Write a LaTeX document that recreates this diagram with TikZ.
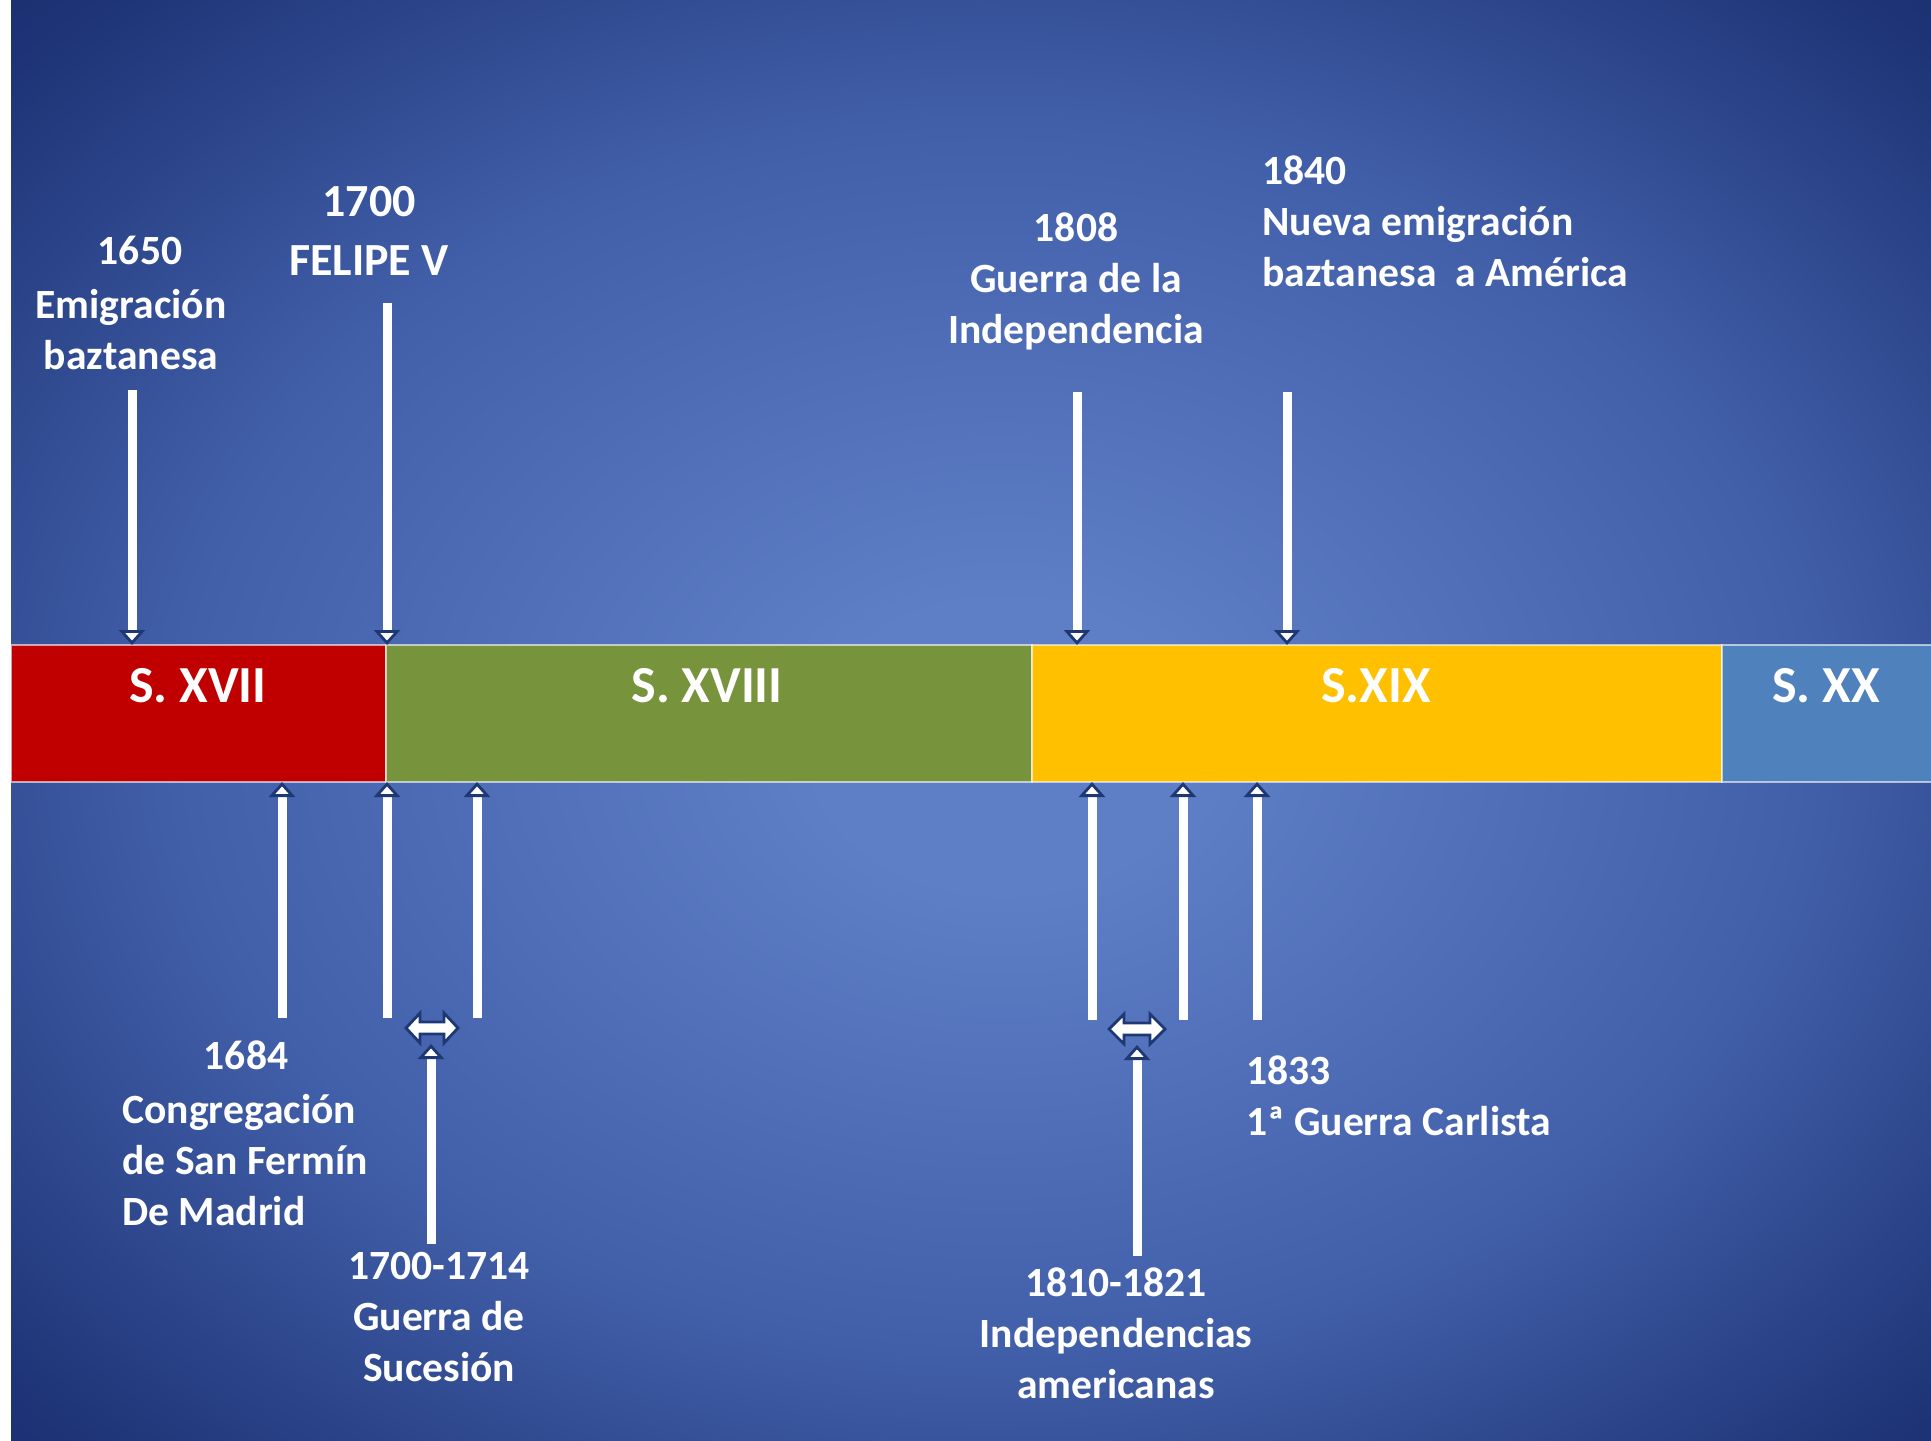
\documentclass[tikz,border=0pt]{standalone}
\usepackage{fontspec}
\setmainfont{Carlito}
\usetikzlibrary{arrows.meta}
\definecolor{bgin}{RGB}{94,126,198}
\definecolor{bgmid}{RGB}{66,96,170}
\definecolor{bgedge}{RGB}{30,52,118}
\definecolor{bgcorner}{RGB}{6,22,76}
\definecolor{c17}{RGB}{192,0,0}
\definecolor{c18}{RGB}{119,147,60}
\definecolor{c19}{RGB}{255,192,0}
\definecolor{c20}{RGB}{79,129,189}
\definecolor{arrshadow}{RGB}{30,56,115}
\pgfdeclareradialshading{bgshade}{\pgfpoint{1bp}{-1bp}}{color(0bp)=(bgin); color(5bp)=(bgin); color(21bp)=(bgmid); color(34bp)=(bgedge); color(50bp)=(bgcorner)}
\begin{document}
\begin{tikzpicture}[x=0.5pt,y=-0.5pt,
  lbl/.style={text=white, font=\bfseries\fontsize{20.8pt}{25.5pt}\selectfont, inner sep=0pt, align=center},
  big/.style={text=white, font=\bfseries\fontsize{23pt}{29.5pt}\selectfont, inner sep=0pt, align=center},
  cent/.style={text=white, font=\bfseries\fontsize{26pt}{30pt}\selectfont, inner sep=0pt},
  seg/.style={draw=white, draw opacity=0.6, line width=1pt},
  arr/.style={draw=white, line width=4.5pt, -{Triangle[width=13pt,length=7.5pt,fill=white,color=arrshadow,line width=1.4pt]}},
  dbl/.style={fill=white, draw=arrshadow, line width=1.4pt, line join=miter}
]
% background
\useasboundingbox (0,0) rectangle (1931,1440);
\fill[white] (0,0) rectangle (11,1440);
\shade[shading=bgshade] (11,0) rectangle (1931,1440);

% timeline bar
\path[seg, fill=c17] (11,645) rectangle (386,782);
\path[seg, fill=c18] (386,645) rectangle (1032,782);
\path[seg, fill=c19] (1032,645) rectangle (1722,782);
\path[seg, fill=c20] (1722,645) rectangle (1933,782);

\node[cent] (s17) at (198,686) {S. XVII};
\node[cent] (s18) at (707,686) {S. XVIII};
\node[cent] (s19) at (1376,686) {S.XIX};
\node[cent] (s20) at (1826,686) {S. XX};

% top labels
\node[lbl] (t1650) at (140,250) {1650};
\node[lbl] (t1650b) at (131,330) {Emigración\\baztanesa};
\node[big] (t1700) at (369,231) {1700\\FELIPE V};
\node[lbl] (t1808) at (1076,281) {1808\\Guerra de la\\Independencia};
\node[lbl, anchor=west, align=left] (t1840) at (1262,221) {1840\\Nueva emigración\\baztanesa\ \ a América};

% bottom labels
\node[lbl] (t1684) at (246,1055) {1684};
\node[lbl, anchor=west, align=left] (t1684b) at (122,1160) {Congregación\\de San Fermín\\De Madrid};
\node[lbl] (t1714) at (439,1317) {1700-1714\\Guerra de\\Sucesión};
\node[lbl] (t1821) at (1116,1333) {1810-1821\\Independencias\\americanas};
\node[lbl, anchor=west, align=left] (t1833) at (1246,1096) {1833\\1ª Guerra Carlista};

% arrow end points
\coordinate (a1s) at (132,390);  \coordinate (a1e) at (132,645);
\coordinate (a2s) at (387,303);  \coordinate (a2e) at (387,645);
\coordinate (a3s) at (1077,392); \coordinate (a3e) at (1077,645);
\coordinate (a4s) at (1287,392); \coordinate (a4e) at (1287,645);

\coordinate (b1s) at (282,1018);  \coordinate (b1e) at (282,782);
\coordinate (b2s) at (387,1018);  \coordinate (b2e) at (387,782);
\coordinate (b3s) at (477,1018);  \coordinate (b3e) at (477,782);
\coordinate (b4s) at (1092,1020); \coordinate (b4e) at (1092,782);
\coordinate (b5s) at (1183,1020); \coordinate (b5e) at (1183,782);
\coordinate (b6s) at (1257,1020); \coordinate (b6e) at (1257,782);

\coordinate (d1) at (432,1028);
\coordinate (d2) at (1137,1029);
\coordinate (v1s) at (431,1244); \coordinate (v1e) at (431,1044);
\coordinate (v2s) at (1137,1256); \coordinate (v2e) at (1137,1045);

% arrows to the bar
\foreach \n in {a1,a2,a3,a4,b1,b2,b3,b4,b5,b6,v1,v2}
  \draw[arr] (\n s) -- (\n e);

% double arrows
\draw[dbl, shift={(d1)}] (-26,0) -- (-12,-15) -- (-12,-6) -- (12,-6) -- (12,-15) -- (26,0)
   -- (12,15) -- (12,6) -- (-12,6) -- (-12,15) -- cycle;
\draw[dbl, shift={(d2)}] (-28,0) -- (-13,-15) -- (-13,-6) -- (13,-6) -- (13,-15) -- (28,0)
   -- (13,15) -- (13,6) -- (-13,6) -- (-13,15) -- cycle;
\end{tikzpicture}
\end{document}
